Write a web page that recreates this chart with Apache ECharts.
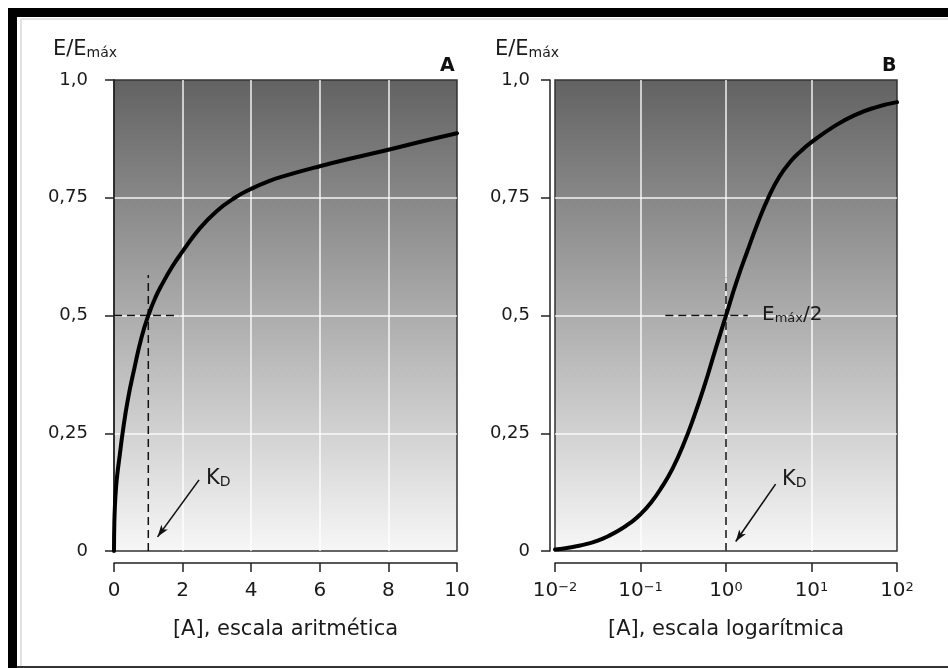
<!DOCTYPE html>
<html><head><meta charset="utf-8">
<script src="https://cdn.jsdelivr.net/npm/echarts@6/dist/echarts.min.js"></script>
<style>html,body{margin:0;padding:0;background:#fff}#c{width:948px;height:668px}</style>
</head><body><div id="c"></div>
<script>
// ---- data ----
const concA = [0,0.01,0.03,0.06,0.1,0.17,0.25,0.4,0.6,0.8,1,1.2,1.4,1.7,2,2.5,3,3.5,4,4.5,5,6,7,8,9,10];
const effA  = [0,0.06,0.1,0.135,0.165,0.205,0.25,0.32,0.39,0.453,0.5,0.537,0.566,0.604,0.636,0.685,0.722,0.749,0.769,0.785,0.797,0.817,0.835,0.852,0.87,0.887];
const concB = [0.01,0.0133,0.0178,0.0237,0.0316,0.0422,0.0562,0.075,0.1,0.133,0.178,0.237,0.316,0.422,0.562,0.75,1,1.33,1.78,2.37,3.16,4.22,5.62,7.5,10,17.8,31.6,56.2,100];
const effB  = [0.003,0.006,0.01,0.015,0.022,0.032,0.044,0.059,0.078,0.103,0.136,0.175,0.225,0.285,0.352,0.427,0.5,0.572,0.637,0.698,0.752,0.795,0.826,0.849,0.868,0.9,0.925,0.942,0.953];
const yTickLabels = ['0','0,25','0,5','0,75','1,0'];
const logExponents = ['−2','−1','0','1','2'];
const kdVertA = [[1,0],[1,0.586]];
const halfLineA = [[0,0.5],[1.9,0.5]];
const kdVertB = [[1,0],[1,0.58]];
const halfLineB = [[0.195,0.5],[1.8,0.5]];
const arrowA = [[2.48,0.151],[1.27,0.03]];
const arrowB = [[3.8,0.142],[1.3,0.02]];
const xTitleA = '[A], escala aritmética';
const xTitleB = '[A], escala logarítmica';

const FONT = '"DejaVu Sans", sans-serif';
const TXT = '#1a1a1a';
const chart = echarts.init(document.getElementById('c'), null, {renderer:'canvas'});
const grad = () => new echarts.graphic.LinearGradient(0,0,0,1,[{offset:0,color:'#626262'},{offset:1,color:'#f7f7f7'}]);
const pairs = (xs, ys) => xs.map((x,i)=>[x, ys[i]]);

function xAx(idx, extra){
  return Object.assign({
    gridIndex: idx, offset: 12,
    axisLine:{show:true,onZero:false,lineStyle:{color:'#222',width:1.5}},
    axisTick:{show:true,length:9,lineStyle:{color:'#222',width:1.5}},
    axisLabel:{margin:18,fontSize:20,color:TXT,fontFamily:FONT},
    splitLine:{show:true,showMinLine:false,showMaxLine:false,lineStyle:{color:'rgba(255,255,255,0.9)',width:1.5}},
    minorTick:{show:false}, minorSplitLine:{show:false},
    nameLocation:'middle', nameGap:56,
    nameTextStyle:{fontSize:21,color:TXT,fontFamily:FONT}
  }, extra);
}
function yAx(idx, off){
  return {
    gridIndex: idx, type:'value', min:0, max:1, interval:0.25, offset: off,
    axisLine:{show:true,lineStyle:{color:'#222',width:1.5}},
    axisTick:{show:true,length:9,lineStyle:{color:'#222',width:1.5}},
    axisLabel:{margin:20,fontSize:18,color:TXT,fontFamily:FONT,
      formatter:(v)=>yTickLabels[Math.round(v/0.25)]},
    splitLine:{show:true,showMinLine:false,showMaxLine:false,lineStyle:{color:'rgba(255,255,255,0.9)',width:1.5}}
  };
}
const dashStyle = {color:'#111',width:1.5,type:[8,5]};
function dashSeries(xi, data){
  return {type:'line',xAxisIndex:xi,yAxisIndex:xi,data:data,symbol:'none',silent:true,
    lineStyle:dashStyle,z:3,animation:false};
}
function arrowSeries(xi, a){
  return {type:'line',xAxisIndex:xi,yAxisIndex:xi,data:[],silent:true,animation:false,
    markLine:{silent:true,animation:false,symbol:['none','arrow'],symbolSize:[6,12],
      label:{show:false},lineStyle:{color:'#111',width:1.6,type:'solid'},
      data:[[{coord:a[0]},{coord:a[1]}]]}};
}
const rich = {
  m:{fontSize:21,lineHeight:21,fontFamily:FONT,color:TXT,verticalAlign:'top'},
  s:{fontSize:14,lineHeight:11,fontFamily:FONT,color:TXT,verticalAlign:'bottom'}
};
const richE2 = {
  m:{fontSize:20,lineHeight:20,fontFamily:FONT,color:TXT,verticalAlign:'top'},
  s:{fontSize:13,lineHeight:10,fontFamily:FONT,color:TXT,verticalAlign:'bottom'}
};
function rtext(x,y,t,r){return {type:'text',x:x,y:y,silent:true,z:10,style:{text:t,rich:r,fill:TXT}};}

const curveStyle = {color:'#000',width:4,cap:'round',join:'round'};
const option = {
  backgroundColor:'#ffffff',
  animation:false,
  grid:[
    {left:114,top:80,width:343,height:471,show:true,backgroundColor:grad(),borderColor:'#333',borderWidth:1.5},
    {left:555,top:80,width:342,height:471,show:true,backgroundColor:grad(),borderColor:'#333',borderWidth:1.5}
  ],
  xAxis:[
    xAx(0,{type:'value',min:0,max:10,interval:2,name:xTitleA}),
    xAx(1,{type:'log',logBase:10,min:0.01,max:100,name:xTitleB,
      axisLabel:{margin:18,fontSize:20,color:TXT,fontFamily:FONT,
        formatter:(v)=>{const i=Math.round(Math.log10(v))+2;return '{m|10}{s|'+logExponents[i]+'}';},
        rich:{m:{fontSize:20,lineHeight:20,fontFamily:FONT,color:TXT,verticalAlign:'bottom'},
              s:{fontSize:13,lineHeight:13,fontFamily:FONT,color:TXT,verticalAlign:'top'}}}})
  ],
  yAxis:[yAx(0,6), yAx(1,5)],
  series:[
    dashSeries(0,kdVertA), dashSeries(0,halfLineA),
    dashSeries(1,kdVertB), dashSeries(1,halfLineB),
    arrowSeries(0,arrowA), arrowSeries(1,arrowB),
    {type:'line',xAxisIndex:0,yAxisIndex:0,data:pairs(concA,effA),smooth:true,symbol:'none',
      lineStyle:curveStyle,z:5},
    {type:'line',xAxisIndex:1,yAxisIndex:1,data:pairs(concB,effB),smooth:true,symbol:'none',
      lineStyle:curveStyle,z:5}
  ],
  graphic:[
    {type:'rect',silent:true,shape:{x:8,y:8,width:940,height:9},style:{fill:'#000'}},
    {type:'rect',silent:true,shape:{x:8,y:8,width:9,height:660},style:{fill:'#000'}},
    {type:'rect',silent:true,shape:{x:20,y:18,width:928,height:2},style:{fill:'#e2e2e2'}},
    {type:'rect',silent:true,shape:{x:20,y:18,width:2,height:650},style:{fill:'#e2e2e2'}},
    {type:'rect',silent:true,shape:{x:17,y:666,width:931,height:2},style:{fill:'#333'}},
    rtext(53,39,'{m|E/E}{s|máx}',rich),
    rtext(495,39,'{m|E/E}{s|máx}',rich),
    {type:'text',x:440,y:57,silent:true,style:{text:'A',fontSize:19,fontWeight:'bold',fontFamily:FONT,fill:'#111'}},
    {type:'text',x:882,y:57,silent:true,style:{text:'B',fontSize:19,fontWeight:'bold',fontFamily:FONT,fill:'#111'}},
    rtext(206,468,'{m|K}{s|D}',rich),
    rtext(782,469,'{m|K}{s|D}',rich),
    rtext(762,305,'{m|E}{s|máx}{m|/2}',richE2)
  ]
};
chart.setOption(option);
</script></body></html>
